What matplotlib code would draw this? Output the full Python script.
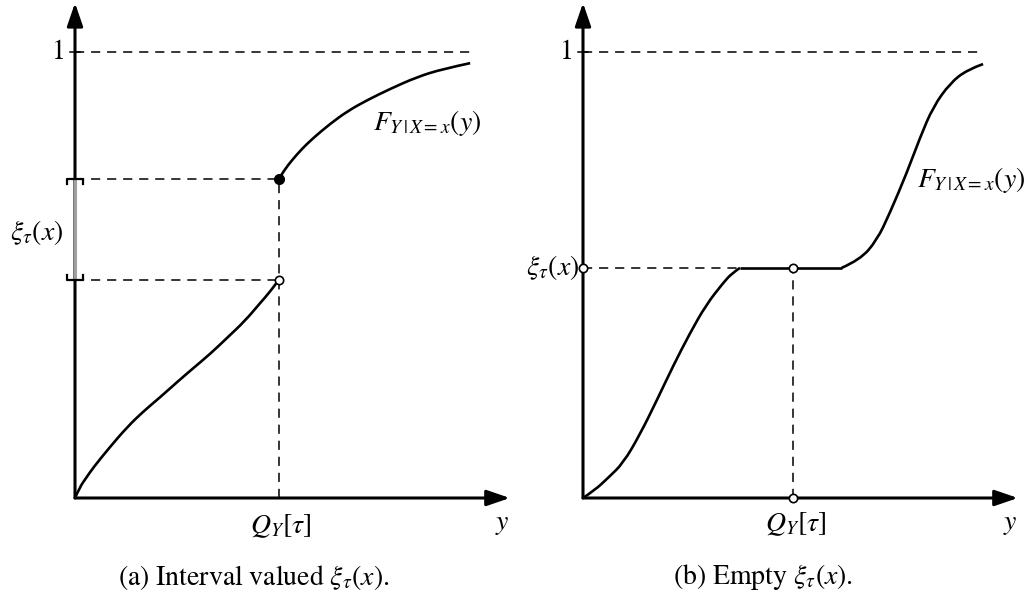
"""
Two sketches of a conditional CDF and its tau-quantile set:
(a) an interval valued xi_tau(x), (b) an empty xi_tau(x).
"""

import matplotlib
matplotlib.use("Agg")
import matplotlib.pyplot as plt
from matplotlib.path import Path
from matplotlib.patches import PathPatch

plt.rcParams["mathtext.fontset"] = "stix"
plt.rcParams["font.family"] = "STIXGeneral"

# ---------------------------------------------------------
# Data (curve points, y in CDF units)
# ---------------------------------------------------------
# panel (a): CDF with a jump at Q_Y[tau]
a_low_x = [0, .011, .025, .040, .078, .117, .152, .191, .229, .265,
           .303, .341, .381, .415, .437, .457]
a_low_y = [0, .025, .045, .067, .114, .159, .193, .226, .260, .291,
           .323, .359, .397, .437, .462, .489]
a_up_x = [.457, .469, .487, .509, .534, .572, .612, .655, .706, .767, .825, .886]
a_up_y = [.715, .735, .758, .783, .807, .839, .868, .892, .917, .944, .962, .975]
a_q = .457
a_xi_low, a_xi_up = .489, .715

# panel (b): CDF with a flat part at level tau
b_rise1_x = [0, .027, .056, .090, .128, .166, .202, .240, .276, .314, .334, .352]
b_rise1_y = [0, .018, .045, .078, .143, .220, .296, .370, .433, .482, .504, .516]
b_rise2_x = [.580, .621, .659, .688, .726, .756, .785, .823, .861, .897]
b_rise2_y = [.516, .534, .578, .639, .729, .809, .877, .930, .960, .973]
b_q = .471
b_xi = .516

x_end = .975   # arrow tip of the x axis
one_end = [.897, .895]

BLACK = "black"
GRAY = "#a0a0a0"
FS = 20

fig = plt.figure(figsize=(10.26, 6.07), dpi=100)
# pixel geometry: origin (75,498) left, (583,498) right, 446 px = 1 unit
ax_a = fig.add_axes([0, 0, 540 / 1026, 1])
ax_b = fig.add_axes([513 / 1026, 0, 1 - 513 / 1026, 1])
ax_a.set_xlim(-75 / 446, 465 / 446)
ax_b.set_xlim(-70 / 446, 443 / 446)
for ax in (ax_a, ax_b):
    ax.set_ylim(-109 / 446, 498 / 446)
    ax.axis("off")
    ax.patch.set_alpha(0)


def smooth_curve(ax, xs, ys):
    # quadratic B-spline through the read points, drawn by matplotlib's Path
    pts = list(zip(xs, ys))
    verts = [pts[0]]
    codes = [Path.MOVETO]
    for i in range(1, len(pts) - 1):
        nxt = pts[i + 1] if i + 1 == len(pts) - 1 else (
            (pts[i][0] + pts[i + 1][0]) / 2, (pts[i][1] + pts[i + 1][1]) / 2)
        verts += [pts[i], nxt]
        codes += [Path.CURVE3, Path.CURVE3]
    ax.add_patch(PathPatch(Path(verts, codes), fill=False, lw=1.9,
                           edgecolor=BLACK, capstyle="butt", zorder=3))


def draw_axes(ax, end1):
    arrow = dict(arrowstyle="-|>,head_length=0.7,head_width=0.24",
                 mutation_scale=20, lw=2.2, color=BLACK, shrinkA=0, shrinkB=0)
    ax.annotate("", xy=(x_end, 0), xytext=(0, 0), arrowprops=arrow)
    ax.annotate("", xy=(0, 1.11), xytext=(0, 0), arrowprops=arrow)
    ax.plot([0, end1], [1, 1], ls=(0, (6, 4.5)), lw=1.1, color=BLACK)
    ax.plot([-0.012, 0.012], [1, 1], lw=1.1, color=BLACK)
    ax.text(-0.025, 1, "$1$", ha="right", va="center", fontsize=FS)
    ax.text(x_end - 0.018, -0.06, "$y$", ha="center", va="center", fontsize=FS)


dash = dict(ls=(0, (6, 4.5)), lw=1.1, color=BLACK)

# ---- panel (a) ----
draw_axes(ax_a, one_end[0])
ax_a.plot([0, a_q], [a_xi_up, a_xi_up], **dash)
ax_a.plot([0, a_q], [a_xi_low, a_xi_low], **dash)
ax_a.plot([a_q, a_q], [0, a_xi_up], **dash)
ax_a.plot([0, 0], [a_xi_low, a_xi_up], color=GRAY, lw=2.2,
          solid_capstyle="butt", zorder=5)
for yv, leg in ((a_xi_up, -0.012), (a_xi_low, 0.012)):
    ax_a.plot([-0.019, -0.019, 0.019, 0.019], [yv + leg, yv, yv, yv + leg],
              color=BLACK, lw=1.6, zorder=6)
smooth_curve(ax_a, a_low_x, a_low_y)
smooth_curve(ax_a, a_up_x, a_up_y)
ax_a.plot(a_q, a_xi_up, "o", ms=7, color=BLACK, zorder=7)
ax_a.plot(a_q, a_xi_low, "o", ms=6, mfc="white", mec=BLACK, mew=1.2, zorder=7)
ax_a.text(-0.085, 0.596, r"$\xi_\tau(x)$", ha="center", va="center", fontsize=FS)
ax_a.text(a_q + 0.005, -0.064, r"$Q_Y[\tau]$", ha="center", va="center", fontsize=FS)
ax_a.text(0.668, 0.841, r"$F_{Y\,\vert\,X=x}(y)$", ha="left", va="center", fontsize=FS)

# ---- panel (b) ----
draw_axes(ax_b, one_end[1])
ax_b.plot([0, b_rise1_x[-1]], [b_xi, b_xi], **dash)
ax_b.plot([b_q, b_q], [0, b_xi], **dash)
smooth_curve(ax_b, b_rise1_x, b_rise1_y)
ax_b.plot([b_rise1_x[-1], b_rise2_x[0]], [b_xi, b_xi], color=BLACK, lw=1.9,
          solid_capstyle="butt", zorder=3)
smooth_curve(ax_b, b_rise2_x, b_rise2_y)
ax_b.plot([0, b_q, b_q], [b_xi, b_xi, 0], "o", ms=6, mfc="white",
          mec=BLACK, mew=1.2, ls="none", zorder=7)
ax_b.text(-0.008, b_xi, r"$\xi_\tau(x)$", ha="right", va="center", fontsize=FS)
ax_b.text(b_q + 0.005, -0.058, r"$Q_Y[\tau]$", ha="center", va="center", fontsize=FS)
ax_b.text(0.749, 0.713, r"$F_{Y\,\vert\,X=x}(y)$", ha="left", va="center", fontsize=FS)

# ---- captions ----
fig.text(0.247, 0.049, r"(a) Interval valued $\xi_\tau(x)$.", ha="center",
         va="center", fontsize=20)
fig.text(0.744, 0.049, r"(b) Empty $\xi_\tau(x)$.", ha="center",
         va="center", fontsize=20)

fig.savefig("out.png", dpi=100, facecolor="white")
